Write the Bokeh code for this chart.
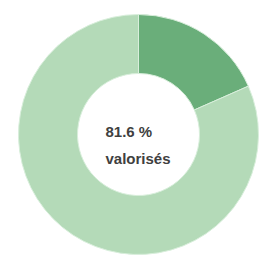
import math
from bokeh.plotting import figure
from bokeh.models import Range1d, ColumnDataSource
from bokeh.core.properties import value
from bokeh.embed import file_html
from bokeh.resources import INLINE

# Data
categories = ["non valorisés", "valorisés"]
shares = [18.4, 81.6]
colors = ["#6aae7a", "#b4dab8"]
center_label = ["81.6 %", "valorisés"]

W, H = 261, 256
p = figure(width=W, height=H, output_backend="svg", toolbar_location=None,
           x_range=Range1d(0, W), y_range=Range1d(H, 0),
           min_border=0, background_fill_color="white", border_fill_color="white")
p.axis.visible = False
p.grid.visible = False
p.outline_line_color = None

cx, cy = 138, 134
r_out, r_in = 120, 61

total = sum(shares)
starts, ends = [], []
acc = 0.0
for s in shares:
    starts.append(math.pi / 2 - acc / total * 2 * math.pi)
    acc += s
    ends.append(math.pi / 2 - acc / total * 2 * math.pi)

src = ColumnDataSource(dict(cat=categories, start=starts, end=ends, color=colors))
p.annular_wedge(x=cx, y=cy, inner_radius=r_in, outer_radius=r_out,
                start_angle="start", end_angle="end", direction="clock",
                fill_color="color", line_color="#d8eedb", line_width=1, source=src)

p.text(x=[105, 105], y=[131, 158], text=center_label,
       text_font=value("Liberation Sans"), text_font_size="15px", text_font_style="bold",
       text_color="#404040", text_align="left", text_baseline="alphabetic")

open("out.html", "w").write(file_html(p, INLINE))
